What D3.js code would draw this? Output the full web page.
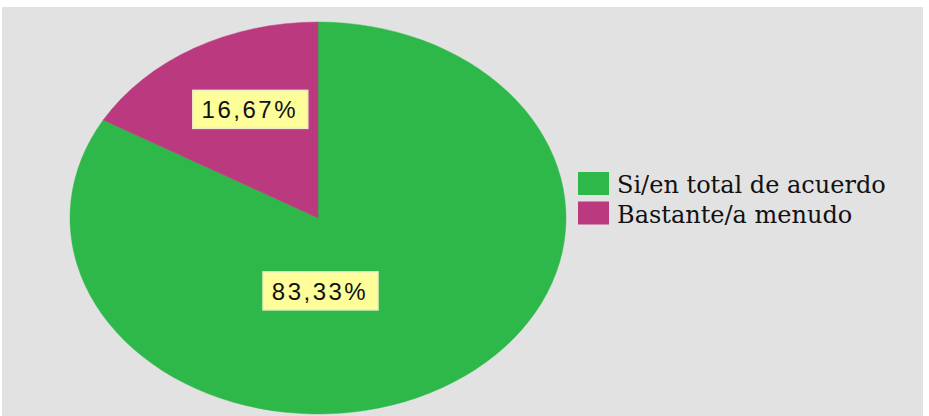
<!DOCTYPE html>
<html>
<head>
<meta charset="utf-8">
<script src="https://cdn.jsdelivr.net/npm/d3@7"></script>
<style>
  html, body { margin: 0; padding: 0; background: #fff; }
  svg { display: block; }
</style>
</head>
<body>
<div id="chart"></div>
<script>
  const categories = ["Si/en total de acuerdo", "Bastante/a menudo"];
  const values = [83.33, 16.67];
  const valueLabels = ["83,33%", "16,67%"];
  const colors = ["#2eb84a", "#bb3a7f"];

  const width = 929;
  const height = 416;

  const panel = { x: 2, y: 7, w: 921, h: 409 };
  const cx = 318, cy = 218;
  const rx = 248, ry = 196;

  const svg = d3.select("#chart")
    .append("svg")
    .attr("width", width)
    .attr("height", height);

  svg.append("rect")
    .attr("x", panel.x)
    .attr("y", panel.y)
    .attr("width", panel.w)
    .attr("height", panel.h)
    .attr("fill", "#e2e2e2");

  const data = categories.map((c, i) => ({ name: c, value: values[i], label: valueLabels[i], color: colors[i] }));

  const pie = d3.pie()
    .sort(null)
    .value(d => d.value);

  const arcs = pie(data);

  const arc = d3.arc()
    .innerRadius(0)
    .outerRadius(rx);

  // pie is drawn as a circle then squashed into the ellipse
  const g = svg.append("g")
    .attr("transform", `translate(${cx},${cy}) scale(1,${ry / rx})`);

  g.selectAll("path.slice")
    .data(arcs)
    .enter()
    .append("path")
    .attr("class", "slice")
    .attr("d", arc)
    .attr("fill", d => d.data.color)
    .attr("stroke", d => d.data.color)
    .attr("stroke-width", 0.5);

  // label spot: big slice sits below centre, small ones near their centroid
  function labelPos(d) {
    const span = d.endAngle - d.startAngle;
    if (span > Math.PI) {
      return [cx + 2, cy + ry * 0.372];
    }
    const a = (d.startAngle + d.endAngle) / 2;
    return [cx + Math.sin(a) * rx * 0.55, cy - Math.cos(a) * ry * 0.64];
  }

  const labels = svg.append("g")
    .selectAll("g.label")
    .data(arcs)
    .enter()
    .append("g")
    .attr("class", "label")
    .attr("transform", d => `translate(${labelPos(d)})`);

  labels.append("rect")
    .attr("x", -57)
    .attr("y", -19)
    .attr("width", 115)
    .attr("height", 38)
    .attr("fill", "#fdfd9a")
    .attr("stroke", "#ececc8")
    .attr("stroke-width", 1.5);

  labels.append("text")
    .attr("text-anchor", "middle")
    .attr("dy", "0.36em")
    .attr("font-family", "Liberation Sans, Arial, sans-serif")
    .attr("font-size", 24)
    .attr("letter-spacing", 2.5)
    .attr("fill", "#111")
    .text(d => d.data.label);

  // legend
  const legend = svg.append("g")
    .attr("transform", "translate(578,172)");

  const item = legend.selectAll("g.item")
    .data(data)
    .enter()
    .append("g")
    .attr("class", "item")
    .attr("transform", (d, i) => `translate(0,${i * 29.5})`);

  item.append("rect")
    .attr("width", 31)
    .attr("height", 23)
    .attr("fill", d => d.color);

  item.append("text")
    .attr("x", 39)
    .attr("y", 21)
    .attr("font-family", "DejaVu Serif, serif")
    .attr("font-size", 24)
    .attr("fill", "#111")
    .text(d => d.name);
</script>
</body>
</html>
